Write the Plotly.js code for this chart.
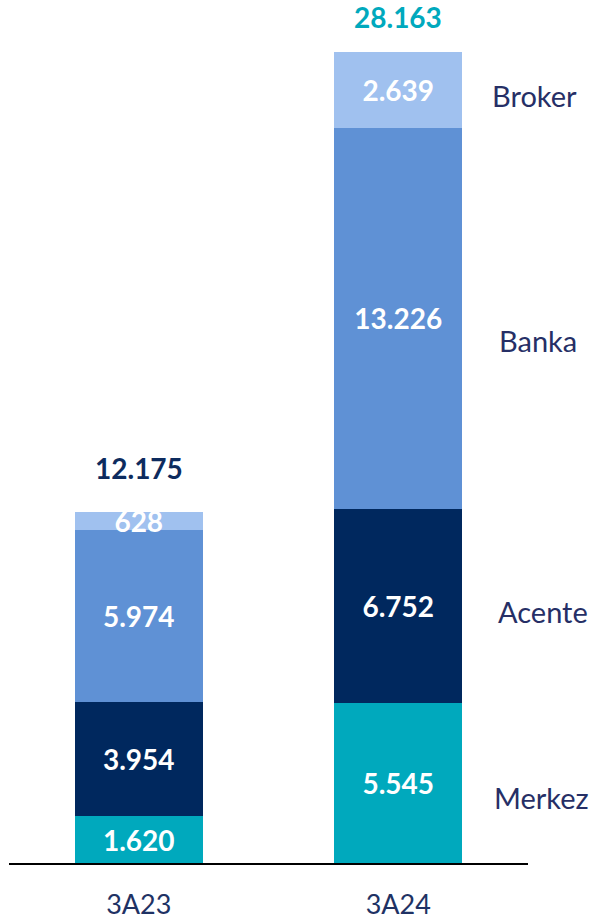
<!DOCTYPE html>
<html>
<head>
<meta charset="utf-8">
<script src="https://cdn.plot.ly/plotly-3.0.1.min.js"></script>
<style>
  html, body { margin: 0; padding: 0; background: #fff; }
  #chart { width: 596px; height: 919px; }
</style>
</head>
<body>
<div id="chart"></div>
<script>
// periods on the x axis
const periods = ['3A23', '3A24'];

// channel values per period
const merkez = [1620, 5545];
const acente = [3954, 6752];
const banka  = [5974, 13226];
const broker = [628, 2639];

const totals = [12175, 28163];
const totalLabels = ['12.175', '28.163'];
const channelNames = ['Merkez', 'Acente', 'Banka', 'Broker'];

const colors = {
  Merkez: '#00a9bd',
  Acente: '#00285e',
  Banka: '#5f91d5',
  Broker: '#a0c1ef'
};
const totalColors = ['#0d2b5e', '#00a9bd'];

const font = 'Lato, "Open Sans", sans-serif';

function barTrace(name, vals) {
  return {
    type: 'bar',
    name: name,
    x: periods,
    y: vals,
    marker: { color: colors[name], line: { width: 0 } },
    texttemplate: '%{y:,}',
    textposition: 'inside',
    insidetextanchor: 'middle',
    textangle: 0,
    textfont: { family: font, size: 28, color: '#ffffff', weight: 'bold' },
    hoverinfo: 'skip'
  };
}

const data = [
  barTrace('Merkez', merkez),
  barTrace('Acente', acente),
  barTrace('Banka', banka),
  barTrace('Broker', broker)
];

// totals above the stacks
const annotations = totals.map((t, i) => ({
  x: periods[i], y: t, xref: 'x', yref: 'y',
  text: '<b>' + totalLabels[i] + '</b>',
  showarrow: false, yanchor: 'middle',
  yshift: i === 0 ? 44 : 35,
  font: { family: font, size: 28, color: totalColors[i] }
}));

// channel names to the right of the second bar
const series = [merkez, acente, banka, broker];
const labelShift = [-14, -5, -22, -5];
const labelX = [1.026, 1.029, 1.019, 1.012];
let base = 0;
series.forEach((s, k) => {
  const v = s[1];
  annotations.push({
    x: labelX[k], xref: 'paper', y: base + v / 2, yref: 'y',
    text: channelNames[k], showarrow: false,
    xanchor: 'center', yanchor: 'middle', yshift: labelShift[k],
    font: { family: font, size: 29, color: '#262f66' }
  });
  base += v;
});

const layout = {
  width: 596,
  height: 919,
  barmode: 'stack',
  bargap: 0.507,
  showlegend: false,
  separators: ',.',
  uniformtext: { mode: 'show', minsize: 27 },
  margin: { l: 9, r: 68, t: 20, b: 56 },
  paper_bgcolor: '#ffffff',
  plot_bgcolor: '#ffffff',
  xaxis: {
    showline: true, linecolor: '#000000', linewidth: 2,
    ticks: '', showgrid: false, zeroline: false,
    ticklabelstandoff: 17,
    tickfont: { family: font, size: 27, color: '#1f3264' }
  },
  yaxis: { visible: false, range: [0, 29274], fixedrange: true },
  annotations: annotations
};

Plotly.newPlot('chart', data, layout, { displayModeBar: false, staticPlot: true });
</script>
</body>
</html>
